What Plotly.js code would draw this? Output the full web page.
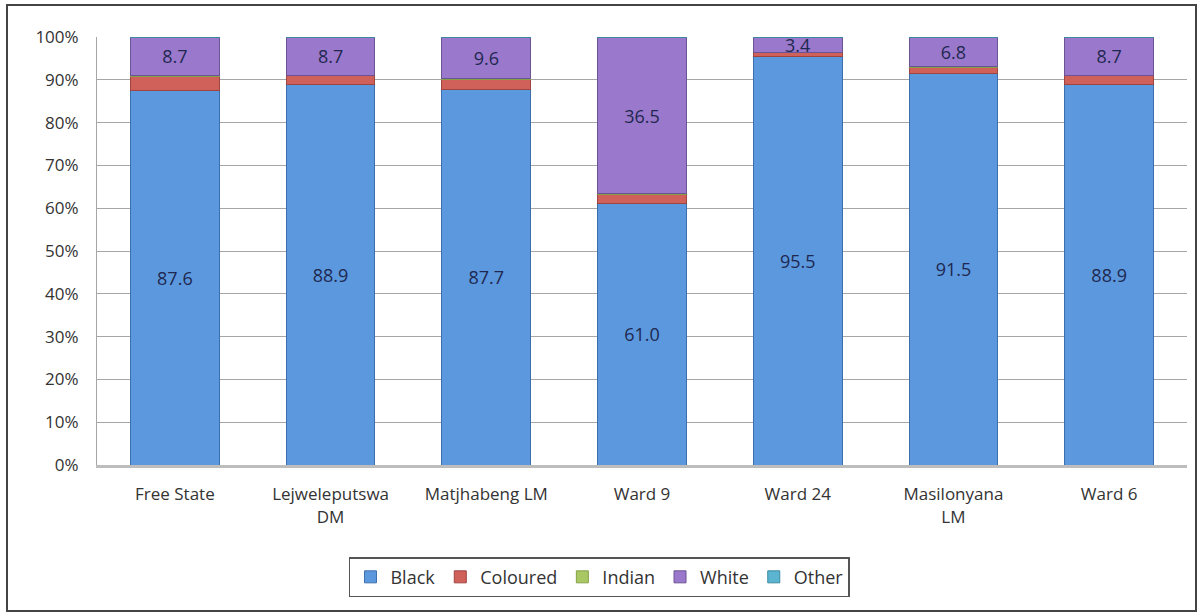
<!DOCTYPE html>
<html><head><meta charset="utf-8">
<script src="https://cdn.plot.ly/plotly-3.0.1.min.js"></script>
<style>
body{margin:0;background:#fff;}
#chart{width:1201px;height:614px;}
#frame{position:absolute;left:6px;top:4px;width:1187px;height:604px;border:2px solid #444;pointer-events:none;}
</style></head>
<body>
<div id="chart"></div>
<div id="frame"></div>
<script>
const categories = ["Free State", "Lejweleputswa<br>DM", "Matjhabeng LM", "Ward 9", "Ward 24", "Masilonyana<br>LM", "Ward 6"];
const black    = [87.6, 88.9, 87.7, 61.0, 95.5, 91.5, 88.9];
const coloured = [3.1, 2.0, 2.3, 2.1, 0.8, 1.4, 2.0];
const indian   = [0.4, 0.2, 0.2, 0.3, 0.1, 0.1, 0.2];
const white    = [8.7, 8.7, 9.6, 36.5, 3.4, 6.8, 8.7];
const other    = [0.2, 0.2, 0.2, 0.1, 0.2, 0.2, 0.2];

const font = "'Open Sans', sans-serif";
function series(name, vals, color, line, showText){
  return {
    type: 'bar', name: name, x: categories, y: vals,
    marker: {color: color, line: {color: line, width: 1}},
    text: showText ? vals.map(v => v.toFixed(1)) : undefined,
    textposition: showText ? 'inside' : 'none',
    insidetextanchor: 'middle',
    constraintext: 'none',
    textfont: {family: font, size: 18, color: '#1f2850'},
    hoverinfo: 'name+y'
  };
}
const data = [
  series('Black', black, '#5b98de', '#3d6fae', true),
  series('Coloured', coloured, '#d0605a', '#a04440', false),
  series('Indian', indian, '#a9c864', '#86a048', false),
  series('White', white, '#9a78cc', '#6c5394', true),
  series('Other', other, '#5bb5d0', '#3a8aa2', false)
];
const layout = {
  width: 1201, height: 614,
  margin: {l: 97, r: 14, t: 37, b: 149},
  paper_bgcolor: '#ffffff', plot_bgcolor: '#ffffff',
  barmode: 'stack', bargap: 0.43,
  font: {family: font, size: 17, color: '#333'},
  xaxis: {showgrid: false, showline: true, linecolor: '#bdbdbd', linewidth: 3,
          ticklabelstandoff: 12,
          tickfont: {family: font, size: 17, color: '#333'}, ticks: ''},
  yaxis: {range: [0, 100], dtick: 10, ticksuffix: '%', showgrid: true,
          gridcolor: '#a6a6a6', gridwidth: 1, showline: true, linecolor: '#a6a6a6',
          ticks: 'outside', ticklen: 0, ticklabelstandoff: 14, zeroline: false,
          tickfont: {family: font, size: 17, color: '#333'}},
  showlegend: true,
  legend: {orientation: 'h', x: 0.461, xanchor: 'center', y: -0.262, yanchor: 'middle',
           bordercolor: '#555', borderwidth: 1.5, bgcolor: '#fff',
           font: {family: font, size: 18, color: '#333'}, traceorder: 'normal',
           itemwidth: 30}
};
Plotly.newPlot('chart', data, layout, {displayModeBar: false, staticPlot: true});
</script>
</body></html>
